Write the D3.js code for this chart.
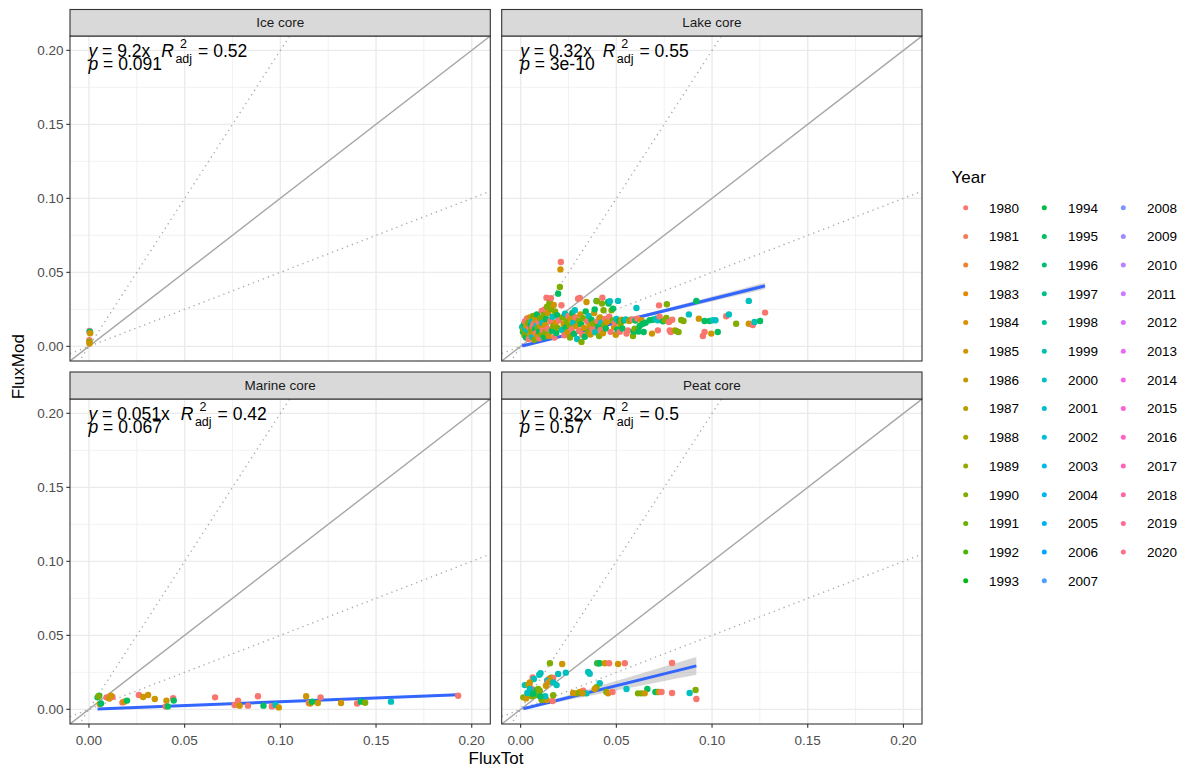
<!DOCTYPE html>
<html>
<head>
<meta charset="utf-8">
<script src="https://cdn.jsdelivr.net/npm/d3@7"></script>
<style>
  body { margin: 0; background: #ffffff; }
  svg { display: block; font-family: "Liberation Sans", Arial, sans-serif; }
</style>
</head>
<body>
<svg id="chart" width="1190" height="769"></svg>
<script>
// ---- data -------------------------------------------------------------
const panelNames = ["Ice core", "Lake core", "Marine core", "Peat core"];

const years = [1980, 1981, 1982, 1983, 1984, 1985, 1986, 1987, 1988, 1989,
  1990, 1991, 1992, 1993, 1994, 1995, 1996, 1997, 1998, 1999, 2000, 2001,
  2002, 2003, 2004, 2005, 2006, 2007, 2008, 2009, 2010, 2011, 2012, 2013,
  2014, 2015, 2016, 2017, 2018, 2019, 2020];

const axisTicks = [0, 0.05, 0.10, 0.15, 0.20];
const minorTicks = [0.025, 0.075, 0.125, 0.175];

// [FluxTot, FluxMod, Year]
const icePoints = [
  [0.0003, 0.0104, 1980], [0.0004, 0.0099, 2000], [0.0006, 0.0095, 1995],
  [0.0006, 0.0088, 1985], [0.0002, 0.0041, 1980], [0.0003, 0.0030, 1990],
  [0.0003, 0.0020, 1985]
];

const lakePoints = [
  [0.0008,0.0131,2000],[0.0012,0.0098,1995],[0.0015,0.0112,1990],[0.0018,0.0150,1995],[0.0020,0.0075,1990],
  [0.0022,0.0168,1980],[0.0025,0.0120,2000],[0.0028,0.0060,1995],[0.0030,0.0140,1985],[0.0033,0.0188,1980],
  [0.0035,0.0092,1990],[0.0038,0.0105,2000],[0.0040,0.0160,1990],[0.0042,0.0050,1980],[0.0045,0.0128,1980],
  [0.0048,0.0195,1985],[0.0050,0.0082,1985],[0.0052,0.0145,1995],[0.0055,0.0110,1990],[0.0058,0.0172,2000],
  [0.0060,0.0065,2000],[0.0062,0.0135,1980],[0.0065,0.0205,1990],[0.0068,0.0098,1985],[0.0070,0.0155,1980],
  [0.0072,0.0045,1990],[0.0075,0.0118,1995],[0.0078,0.0180,1985],[0.0080,0.0088,1980],[0.0083,0.0140,2000],
  [0.0085,0.0215,1995],[0.0088,0.0070,1985],[0.0090,0.0125,1990],[0.0093,0.0165,1980],[0.0096,0.0100,1995],
  [0.0098,0.0055,1980],
  [0.0102,0.0190,1990],[0.0105,0.0135,1985],[0.0108,0.0080,1990],[0.0110,0.0240,1980],[0.0113,0.0160,2000],
  [0.0116,0.0108,1980],[0.0120,0.0212,1990],[0.0122,0.0062,1995],[0.0125,0.0250,1980],[0.0128,0.0145,1985],
  [0.0130,0.0095,1990],[0.0133,0.0185,1995],[0.0135,0.0328,1980],[0.0138,0.0268,1990],[0.0140,0.0120,1980],
  [0.0143,0.0225,1985],[0.0146,0.0070,1985],[0.0150,0.0290,1990],[0.0153,0.0300,1990],[0.0155,0.0172,1980],
  [0.0158,0.0325,1980],[0.0160,0.0250,1990],[0.0163,0.0105,1995],[0.0166,0.0200,2000],[0.0170,0.0138,1990],
  [0.0173,0.0280,1985],[0.0176,0.0060,1980],[0.0180,0.0235,1990],[0.0183,0.0158,1985],[0.0186,0.0090,1995],
  [0.0190,0.0210,1995],[0.0193,0.0125,1990],[0.0196,0.0356,1995],[0.0200,0.0175,1980],[0.0205,0.0401,1990],
  [0.0208,0.0520,1985],[0.0210,0.0570,1980],[0.0213,0.0278,1980],[0.0216,0.0110,2000],[0.0220,0.0195,1990],
  [0.0225,0.0150,1985],[0.0228,0.0075,1980],[0.0232,0.0220,2000],[0.0236,0.0128,1995],[0.0240,0.0170,1990],
  [0.0245,0.0095,1985],[0.0250,0.0205,1980],[0.0255,0.0140,1990],[0.0258,0.0060,1990],[0.0262,0.0185,1985],
  [0.0266,0.0115,1980],[0.0270,0.0225,1995],[0.0275,0.0160,2000],[0.0280,0.0085,1995],[0.0283,0.0244,2000],
  [0.0287,0.0195,1980],[0.0290,0.0135,1985],[0.0295,0.0050,2000],[0.0300,0.0322,1980],[0.0303,0.0172,1990],
  [0.0306,0.0105,1980],[0.0309,0.0327,1980],[0.0312,0.0215,1985],[0.0316,0.0150,1995],[0.0318,0.0030,1990],
  [0.0322,0.0078,1980],[0.0326,0.0190,1990],[0.0330,0.0125,1985],[0.0335,0.0065,1995],[0.0340,0.0235,1995],
  [0.0344,0.0300,1985],[0.0348,0.0168,1980],[0.0352,0.0098,1990],[0.0356,0.0205,2000],[0.0360,0.0140,1985],
  [0.0365,0.0080,1985],[0.0370,0.0180,1995],[0.0375,0.0118,1980],[0.0380,0.0155,1990],[0.0384,0.0225,1985],
  [0.0387,0.0250,1995],[0.0390,0.0095,2000],[0.0396,0.0307,1995],[0.0399,0.0305,1990],[0.0402,0.0170,1980],
  [0.0406,0.0132,1995],[0.0410,0.0070,1990],[0.0414,0.0195,1985],[0.0418,0.0110,1980],[0.0422,0.0160,2000],
  [0.0425,0.0289,1990],[0.0427,0.0329,1980],[0.0430,0.0088,1985],[0.0433,0.0244,1990],[0.0437,0.0145,1990],
  [0.0441,0.0185,1980],[0.0445,0.0120,1995],
  [0.0450,0.0165,1985],[0.0457,0.0300,1995],[0.0460,0.0289,1995],[0.0463,0.0200,1980],[0.0466,0.0305,2000],
  [0.0470,0.0098,1980],[0.0475,0.0244,1990],[0.0480,0.0175,1990],[0.0483,0.0255,1995],[0.0488,0.0130,1985],
  [0.0492,0.0160,1980],[0.0497,0.0078,1985],[0.0500,0.0185,2000],[0.0505,0.0115,1995],[0.0509,0.0307,2000],
  [0.0513,0.0170,1995],[0.0518,0.0098,1980],[0.0522,0.0150,1990],[0.0527,0.0180,1985],[0.0532,0.0120,1995],
  [0.0540,0.0175,1995],[0.0549,0.0182,2000],[0.0553,0.0086,1980],[0.0561,0.0108,1980],[0.0567,0.0172,1985],
  [0.0575,0.0180,1990],[0.0584,0.0182,1980],[0.0587,0.0070,1990],[0.0590,0.0100,1995],[0.0596,0.0120,1990],
  [0.0600,0.0175,1995],[0.0605,0.0259,2000],[0.0610,0.0187,1980],[0.0615,0.0100,1995],[0.0622,0.0138,1995],
  [0.0631,0.0176,1985],[0.0639,0.0153,1995],[0.0643,0.0097,1995],
  [0.0653,0.0160,1995],[0.0674,0.0176,1995],[0.0686,0.0086,1985],[0.0691,0.0180,1995],[0.0707,0.0187,2000],
  [0.0716,0.0176,2000],[0.0717,0.0108,1980],[0.0723,0.0277,1980],[0.0726,0.0201,1980],[0.0744,0.0169,1995],
  [0.0752,0.0176,1990],[0.0761,0.0192,1990],[0.0764,0.0284,1990],[0.0775,0.0165,1980],[0.0779,0.0108,1980],
  [0.0784,0.0097,1980],[0.0792,0.0180,1980],[0.0805,0.0108,1985],[0.0813,0.0104,1990],[0.0825,0.0097,1990],
  [0.0839,0.0178,1990],[0.0851,0.0171,1990],[0.0879,0.0216,2000],[0.0918,0.0307,1995],[0.0931,0.0187,1985],
  [0.0952,0.0070,1980],[0.0961,0.0097,1980],[0.0961,0.0171,1995],[0.0987,0.0171,1995],[0.0996,0.0086,1985],
  [0.1004,0.0176,2000],[0.1018,0.0176,2000],[0.1030,0.0097,1995],[0.1074,0.0203,1980],[0.1088,0.0216,2000],
  [0.1126,0.0153,1990],[0.1192,0.0153,1985],[0.1192,0.0307,2000],[0.1213,0.0144,1980],[0.1222,0.0165,2000],
  [0.1251,0.0171,1995],[0.1277,0.0228,1980]
];

const marinePoints = [
  [0.0045,0.0081,1995],[0.0054,0.0092,1995],[0.0050,0.0088,1990],[0.0057,0.0036,1985],[0.0063,0.0040,1995],
  [0.0092,0.0081,1980],[0.0106,0.0074,1985],[0.0123,0.0083,1980],[0.0115,0.0092,1985],[0.0175,0.0047,1980],
  [0.0184,0.0052,1985],[0.0199,0.0059,1995],[0.0261,0.0097,1980],[0.0283,0.0083,1985],[0.0309,0.0097,1985],
  [0.0344,0.0070,1985],[0.0401,0.0020,1980],[0.0405,0.0059,1985],[0.0412,0.0020,1995],[0.0440,0.0076,1980],
  [0.0443,0.0059,1995],[0.0659,0.0081,1980],[0.0761,0.0029,1980],[0.0779,0.0059,1980],[0.0787,0.0025,1985],
  [0.0831,0.0025,1980],[0.0883,0.0088,1980],[0.0912,0.0025,1995],[0.0956,0.0020,1980],[0.0975,0.0029,2000],
  [0.0992,0.0013,1985],[0.1135,0.0088,1985],[0.1149,0.0043,1980],[0.1156,0.0040,1985],[0.1166,0.0052,1995],
  [0.1196,0.0043,1985],[0.1210,0.0081,1980],[0.1317,0.0043,1985],[0.1401,0.0040,1980],[0.1421,0.0052,1995],
  [0.1443,0.0045,1990],[0.1578,0.0052,2000],[0.1929,0.0092,1980]
];

const peatPoints = [
  [0.0153,0.0311,1990],[0.0217,0.0306,1985],[0.0400,0.0311,1995],[0.0407,0.0311,1990],[0.0413,0.0311,1995],
  [0.0440,0.0311,1985],[0.0462,0.0311,1980],[0.0509,0.0306,1985],[0.0544,0.0311,1980],[0.0791,0.0313,1980],
  [0.0104,0.0245,2000],[0.0097,0.0234,2000],[0.0196,0.0239,2000],[0.0236,0.0248,2000],[0.0063,0.0216,1980],
  [0.0069,0.0205,2000],[0.0160,0.0214,1990],[0.0170,0.0212,1980],[0.0150,0.0207,1985],[0.0139,0.0196,1980],
  [0.0022,0.0164,2000],[0.0040,0.0166,1990],[0.0048,0.0182,1985],[0.0045,0.0159,1985],[0.0058,0.0137,1980],
  [0.0084,0.0131,1995],[0.0092,0.0137,1990],[0.0100,0.0126,1990],[0.0139,0.0193,2000],[0.0144,0.0182,1980],
  [0.0153,0.0189,1985],[0.0170,0.0182,2000],[0.0188,0.0164,2000],[0.0132,0.0159,1985],
  [0.0353,0.0252,2000],[0.0361,0.0241,2000],[0.0413,0.0176,2000],[0.0396,0.0149,1990],[0.0387,0.0137,1985],
  [0.0327,0.0126,1980],[0.0309,0.0117,1985],[0.0292,0.0108,1990],[0.0344,0.0108,2000],[0.0274,0.0110,1985],
  [0.0323,0.0108,1985],
  [0.0448,0.0117,1990],[0.0457,0.0108,1985],[0.0480,0.0117,1980],[0.0553,0.0137,2000],[0.0662,0.0137,1995],
  [0.0613,0.0108,1990],[0.0631,0.0108,1990],[0.0648,0.0108,1985],[0.0704,0.0117,1995],[0.0714,0.0117,1995],
  [0.0722,0.0117,1985],[0.0736,0.0117,1980],[0.0791,0.0110,1980],[0.0883,0.0110,2000],[0.0914,0.0131,1990],
  [0.0918,0.0070,1980],
  [0.0014,0.0081,1990],[0.0028,0.0074,1985],[0.0058,0.0088,1990],[0.0076,0.0095,1990],[0.0110,0.0070,1980],
  [0.0110,0.0063,1990],[0.0136,0.0063,1985],[0.0167,0.0056,1980],[0.0128,0.0088,2000],[0.0102,0.0088,1995],
  [0.0170,0.0095,1990],[0.0048,0.0137,2000],[0.0035,0.0110,2000],[0.0065,0.0105,1995]
];

const panelPoints = [icePoints, lakePoints, marinePoints, peatPoints];

// regression through the origin, per panel
const fitSlopes = [9.2, 0.32, 0.051, 0.32];
const fitSlopeCI = [0.9, 0.017, 0.004, 0.065];
const eqLabels = ["9.2x", "0.32x", "0.051x", "0.32x"];
const r2Labels = ["0.52", "0.55", "0.42", "0.5"];
const pLabels = ["0.091", "3e-10", "0.067", "0.57"];

// reference lines y = k x
const refSlopes = [1, 2, 0.5];

// ---- colours: ggplot-style evenly spaced HCL hues (polar Luv) ----------
function hclLuv(h, c, l) {
  const hr = h * Math.PI / 180;
  const U = c * Math.cos(hr), V = c * Math.sin(hr);
  const Xn = 95.047, Yn = 100.0, Zn = 108.883;
  const Y = l > 8 ? Yn * Math.pow((l + 16) / 116, 3) : Yn * l / 903.3;
  const den = Xn + 15 * Yn + 3 * Zn;
  const un = 4 * Xn / den, vn = 9 * Yn / den;
  const u = U / (13 * l) + un, v = V / (13 * l) + vn;
  const X = 9 * Y * u / (4 * v);
  const Z = -X / 3 - 5 * Y + 3 * Y / v;
  const x = X / 100, y = Y / 100, z = Z / 100;
  const lin = [
    3.240479 * x - 1.537150 * y - 0.498535 * z,
    -0.969256 * x + 1.875992 * y + 0.041556 * z,
    0.055648 * x - 0.204043 * y + 1.057311 * z
  ];
  const gam = t => t <= 0.0031308 ? 12.92 * t : 1.055 * Math.pow(t, 1 / 2.4) - 0.055;
  const ch = lin.map(t => Math.round(255 * Math.max(0, Math.min(1, gam(t)))));
  return d3.rgb(ch[0], ch[1], ch[2]).formatHex();
}
const colour = d3.scaleOrdinal()
  .domain(years)
  .range(years.map((d, i) => hclLuv(15 + i * 360 / years.length, 100, 65)));

// ---- layout -----------------------------------------------------------
const svg = d3.select("#chart");
const cols = [{x0: 70, x1: 490.3}, {x0: 501.7, x1: 922}];
const rows = [{s0: 9.5, p0: 36, p1: 361}, {s0: 372, p0: 399, p1: 724}];
const domain = [-0.0099, 0.2097];
const fmt = d3.format(".2f");

const gridCol = "#EBEBEB", borderCol = "#333333";

panelNames.forEach((name, k) => {
  const c = cols[k % 2], r = rows[Math.floor(k / 2)];
  const x = d3.scaleLinear().domain(domain).range([c.x0, c.x1]);
  const y = d3.scaleLinear().domain(domain).range([r.p1, r.p0]);
  const g = svg.append("g");

  const clipId = "clip" + k;
  svg.append("clipPath").attr("id", clipId)
    .append("rect").attr("x", c.x0).attr("y", r.p0)
    .attr("width", c.x1 - c.x0).attr("height", r.p1 - r.p0);

  // background + grid
  g.append("rect").attr("x", c.x0).attr("y", r.p0)
    .attr("width", c.x1 - c.x0).attr("height", r.p1 - r.p0).attr("fill", "#fff");
  const grid = g.append("g");
  minorTicks.forEach(t => {
    grid.append("line").attr("x1", x(t)).attr("x2", x(t)).attr("y1", r.p0).attr("y2", r.p1)
      .attr("stroke", gridCol).attr("stroke-width", 0.7);
    grid.append("line").attr("y1", y(t)).attr("y2", y(t)).attr("x1", c.x0).attr("x2", c.x1)
      .attr("stroke", gridCol).attr("stroke-width", 0.7);
  });
  axisTicks.forEach(t => {
    grid.append("line").attr("x1", x(t)).attr("x2", x(t)).attr("y1", r.p0).attr("y2", r.p1)
      .attr("stroke", gridCol).attr("stroke-width", 1.4);
    grid.append("line").attr("y1", y(t)).attr("y2", y(t)).attr("x1", c.x0).attr("x2", c.x1)
      .attr("stroke", gridCol).attr("stroke-width", 1.4);
  });

  const plot = g.append("g").attr("clip-path", `url(#${clipId})`);

  // reference lines
  refSlopes.forEach((s, i) => {
    plot.append("line")
      .attr("x1", x(domain[0])).attr("y1", y(s * domain[0]))
      .attr("x2", x(domain[1])).attr("y2", y(s * domain[1]))
      .attr("stroke", i === 0 ? "#A6A6A6" : "#ABABAB")
      .attr("stroke-width", 1.4)
      .attr("stroke-dasharray", i === 0 ? null : "1.3,4")
      .attr("stroke-linecap", "butt");
  });

  // fitted line with confidence band
  const pts = panelPoints[k];
  const xs = d3.extent(pts, d => d[0]);
  const fitXs = d3.range(0, 21).map(i => xs[0] + (xs[1] - xs[0]) * i / 20);
  const slope = fitSlopes[k], ci = fitSlopeCI[k];
  plot.append("path").datum(fitXs)
    .attr("d", d3.area().x(d => x(d)).y0(d => y(d * (slope - ci))).y1(d => y(d * (slope + ci))))
    .attr("fill", "#999999").attr("fill-opacity", 0.4);
  plot.append("line")
    .attr("x1", x(xs[0])).attr("y1", y(slope * xs[0]))
    .attr("x2", x(xs[1])).attr("y2", y(slope * xs[1]))
    .attr("stroke", "#3366FF").attr("stroke-width", 3);

  // points
  plot.selectAll("circle.pt").data(pts).join("circle")
    .attr("class", "pt")
    .attr("cx", d => x(d[0])).attr("cy", d => y(d[1]))
    .attr("r", 3.2).attr("fill", d => colour(d[2]));

  // panel border
  g.append("rect").attr("x", c.x0).attr("y", r.p0)
    .attr("width", c.x1 - c.x0).attr("height", r.p1 - r.p0)
    .attr("fill", "none").attr("stroke", borderCol).attr("stroke-width", 1.1);

  // strip
  g.append("rect").attr("x", c.x0).attr("y", r.s0)
    .attr("width", c.x1 - c.x0).attr("height", r.p0 - r.s0)
    .attr("fill", "#D9D9D9").attr("stroke", borderCol).attr("stroke-width", 1.1);
  g.append("text").attr("x", (c.x0 + c.x1) / 2).attr("y", (r.s0 + r.p0) / 2 + 4.7)
    .attr("text-anchor", "middle").attr("fill", "#1A1A1A")
    .style("font-size", "13.5px").text(name);

  // equation label
  const ex = c.x0 + 18.5, ey = r.p0 + 20.5;
  const t1 = g.append("text").attr("x", ex).attr("y", ey).style("font-size", "17.5px");
  t1.append("tspan").style("font-style", "italic").text("y");
  t1.append("tspan").text(" = " + eqLabels[k]);
  const w1 = t1.node().getComputedTextLength();
  const rx = ex + w1 + 11;
  const tR = g.append("text").attr("x", rx).attr("y", ey)
    .style("font-size", "17.5px").style("font-style", "italic").text("R");
  const sx = rx + tR.node().getComputedTextLength() + 1.5;
  g.append("text").attr("x", sx + 4.5).attr("y", ey - 8.5).style("font-size", "12.5px").text("2");
  const tAdj = g.append("text").attr("x", sx).attr("y", ey + 6)
    .style("font-size", "12.5px").text("adj");
  g.append("text").attr("x", sx + tAdj.node().getComputedTextLength() + 6).attr("y", ey)
    .style("font-size", "17.5px").text("= " + r2Labels[k]);
  const t2 = g.append("text").attr("x", ex).attr("y", ey + 13.5).style("font-size", "17.5px");
  t2.append("tspan").style("font-style", "italic").text("p");
  t2.append("tspan").text(" = " + pLabels[k]);

  // y axis (left column)
  if (k % 2 === 0) {
    axisTicks.forEach(t => {
      g.append("line").attr("x1", c.x0 - 3.7).attr("x2", c.x0).attr("y1", y(t)).attr("y2", y(t))
        .attr("stroke", borderCol).attr("stroke-width", 1.1);
      g.append("text").attr("x", c.x0 - 6.5).attr("y", y(t)).attr("dy", "0.36em")
        .attr("text-anchor", "end").attr("fill", "#4D4D4D")
        .style("font-size", "13.5px").text(fmt(t));
    });
  }
  // x axis (bottom row)
  if (k >= 2) {
    axisTicks.forEach(t => {
      g.append("line").attr("x1", x(t)).attr("x2", x(t)).attr("y1", r.p1).attr("y2", r.p1 + 3.7)
        .attr("stroke", borderCol).attr("stroke-width", 1.1);
      g.append("text").attr("x", x(t)).attr("y", r.p1 + 21)
        .attr("text-anchor", "middle").attr("fill", "#4D4D4D")
        .style("font-size", "13.5px").text(fmt(t));
    });
  }
});

// axis titles
svg.append("text").attr("x", (cols[0].x0 + cols[1].x1) / 2).attr("y", 764)
  .attr("text-anchor", "middle").style("font-size", "17px").text("FluxTot");
svg.append("text").attr("transform", `translate(24,${(rows[0].s0 + rows[1].p1) / 2}) rotate(-90)`)
  .attr("text-anchor", "middle").style("font-size", "17px").text("FluxMod");

// legend
const leg = svg.append("g");
leg.append("text").attr("x", 951.5).attr("y", 183).style("font-size", "17px").text("Year");
const legCols = [{dot: 965.7, txt: 989}, {dot: 1044.3, txt: 1068}, {dot: 1123.3, txt: 1147}];
years.forEach((yr, i) => {
  const ci = Math.floor(i / 14), ri = i % 14;
  const cy = 207.7 + ri * 28.7;
  leg.append("circle").attr("cx", legCols[ci].dot).attr("cy", cy).attr("r", 2.5)
    .attr("fill", colour(yr));
  leg.append("text").attr("x", legCols[ci].txt).attr("y", cy).attr("dy", "0.36em")
    .attr("fill", "#000").style("font-size", "13.5px").text(yr);
});
</script>
</body>
</html>
